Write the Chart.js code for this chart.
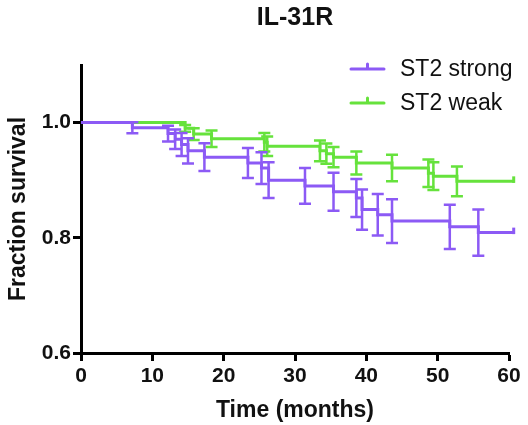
<!DOCTYPE html>
<html>
<head>
<meta charset="utf-8">
<script src="https://cdn.jsdelivr.net/npm/chart.js@4.4.1/dist/chart.umd.min.js"></script>
<style>
  html, body { margin: 0; padding: 0; background: #fff; }
  #wrap { width: 528px; height: 425px; }
</style>
</head>
<body>
<div id="wrap"><canvas id="chart"></canvas></div>
<script>
// Kaplan-Meier data (time in months, fraction surviving, error half-width)
const seriesNames = ['ST2 strong', 'ST2 weak'];
const seriesColors = ['#8C5AF5', '#66E23C'];

const strongTime = [0, 7.2, 12.2, 13.2, 14.1, 15.0, 17.3, 23.4, 25.3, 26.3, 31.4, 35.4, 38.6, 39.4, 41.6, 43.6, 51.7, 55.7, 60.8];
const strongSurv = [1.0, 0.991, 0.981, 0.971, 0.962, 0.951, 0.940, 0.930, 0.921, 0.900, 0.890, 0.880, 0.869, 0.849, 0.840, 0.829, 0.819, 0.809, 0.809];
const strongErr  = [0, 0.0096, 0.0136, 0.017, 0.020, 0.022, 0.024, 0.026, 0.0275, 0.031, 0.031, 0.033, 0.033, 0.035, 0.036, 0.038, 0.0385, 0.040, 0];

const weakTime = [0, 14.6, 15.8, 18.3, 25.7, 26.1, 33.5, 34.4, 35.4, 38.6, 43.6, 48.7, 49.4, 52.7, 60.8];
const weakSurv = [1.0, 0.99, 0.98, 0.972, 0.966, 0.959, 0.951, 0.946, 0.940, 0.930, 0.921, 0.912, 0.907, 0.898, 0.898];
const weakErr  = [0, 0.006, 0.010, 0.0145, 0.016, 0.017, 0.018, 0.0175, 0.0175, 0.020, 0.023, 0.024, 0.024, 0.026, 0];

const xTicks = [0, 10, 20, 30, 40, 50, 60];
const yTicks = [0.6, 0.8, 1.0];

const boldFont = '"Liberation Sans", Arial, sans-serif';

function toPoints(times, surv) {
    return times.map((t, i) => ({ x: t, y: surv[i] }));
}

// Draw the vertical error bars with caps at each event time
const errorBars = {
    id: 'errorBars',
    afterDatasetDraw(chart, args) {
        const ds = chart.data.datasets[args.index];
        const { ctx, scales: { x, y } } = chart;
        ctx.save();
        ctx.strokeStyle = ds.borderColor;
        ctx.lineWidth = 2.5;
        ctx.lineCap = 'butt';
        ds.data.forEach((p, j) => {
            const e = ds.errors[j];
            if (!e) return;
            const px = x.getPixelForValue(p.x);
            const top = y.getPixelForValue(p.y + e);
            const bot = y.getPixelForValue(p.y - e);
            ctx.beginPath();
            ctx.moveTo(px, top);
            ctx.lineTo(px, bot);
            ctx.moveTo(px - 6, top);
            ctx.lineTo(px + 6, top);
            ctx.moveTo(px - 6, bot);
            ctx.lineTo(px + 6, bot);
            ctx.stroke();
        });
        // small end tick on the last point
        const last = ds.data[ds.data.length - 1];
        const ex = x.getPixelForValue(last.x);
        const ey = y.getPixelForValue(last.y);
        ctx.lineWidth = 3;
        ctx.beginPath();
        ctx.moveTo(ex - 1, ey + 1.5);
        ctx.lineTo(ex - 1, ey - 5);
        ctx.stroke();
        ctx.restore();
    }
};

// Legend drawn inside the plot, top right
const innerLegend = {
    id: 'innerLegend',
    afterDraw(chart) {
        const { ctx } = chart;
        ctx.save();
        const rows = [69, 103];
        rows.forEach((ly, i) => {
            ctx.strokeStyle = seriesColors[i];
            ctx.lineWidth = 3;
            ctx.lineCap = 'round';
            ctx.beginPath();
            ctx.moveTo(351, ly);
            ctx.lineTo(384, ly);
            ctx.moveTo(367.5, ly);
            ctx.lineTo(367.5, ly - 5);
            ctx.stroke();
            ctx.fillStyle = '#111';
            ctx.font = '23px ' + boldFont;
            ctx.textBaseline = 'middle';
            ctx.textAlign = 'left';
            ctx.fillText(seriesNames[i], 400, ly + 1);
        });
        ctx.restore();
    }
};

const ctx = document.getElementById('chart');
new Chart(ctx, {
    type: 'line',
    data: {
        datasets: [{
            label: seriesNames[0],
            data: toPoints(strongTime, strongSurv),
            errors: strongErr,
            borderColor: seriesColors[0],
            borderWidth: 3,
            stepped: 'before',
            pointRadius: 0,
            clip: false,
            fill: false
        }, {
            label: seriesNames[1],
            data: toPoints(weakTime, weakSurv),
            errors: weakErr,
            borderColor: seriesColors[1],
            borderWidth: 3,
            stepped: 'before',
            pointRadius: 0,
            clip: false,
            fill: false
        }]
    },
    options: {
        responsive: true,
        maintainAspectRatio: false,
        animation: false,
        layout: { padding: { left: 0, right: 19, top: 0, bottom: 0 } },
        plugins: {
            legend: { display: false },
            tooltip: { enabled: false },
            title: {
                display: true,
                fullSize: false,
                text: 'IL-31R',
                color: '#111',
                font: { family: boldFont, size: 25, weight: 'bold' },
                padding: { top: 3, bottom: 32 }
            }
        },
        scales: {
            x: {
                type: 'linear',
                min: 0,
                max: 60,
                afterBuildTicks: (scale) => { scale.ticks = xTicks.map(v => ({ value: v })); },
                afterFit: (scale) => { scale.height = 72; },
                border: { color: '#000', width: 3 },
                grid: { drawOnChartArea: false, tickLength: 8, tickColor: '#000', tickWidth: 3 },
                ticks: {
                    color: '#111',
                    padding: 3,
                    font: { family: boldFont, size: 21, weight: 'bold' }
                },
                title: {
                    display: true,
                    text: 'Time (months)',
                    color: '#111',
                    font: { family: boldFont, size: 23, weight: 'bold' },
                    padding: { top: 0, bottom: 1 }
                }
            },
            y: {
                type: 'linear',
                min: 0.6,
                max: 1.1,
                afterBuildTicks: (scale) => { scale.ticks = yTicks.map(v => ({ value: v })); },
                afterFit: (scale) => { scale.width = 81; },
                border: { color: '#000', width: 3 },
                grid: { drawOnChartArea: false, tickLength: 8, tickColor: '#000', tickWidth: 3 },
                ticks: {
                    color: '#111',
                    padding: 2,
                    font: { family: boldFont, size: 21, weight: 'bold' },
                    callback: (v) => v.toFixed(1)
                },
                title: {
                    display: true,
                    text: 'Fraction survival',
                    color: '#111',
                    font: { family: boldFont, size: 23, weight: 'bold' },
                    padding: { top: 5, bottom: 0 }
                }
            }
        }
    },
    plugins: [errorBars, innerLegend]
});
</script>
</body>
</html>
